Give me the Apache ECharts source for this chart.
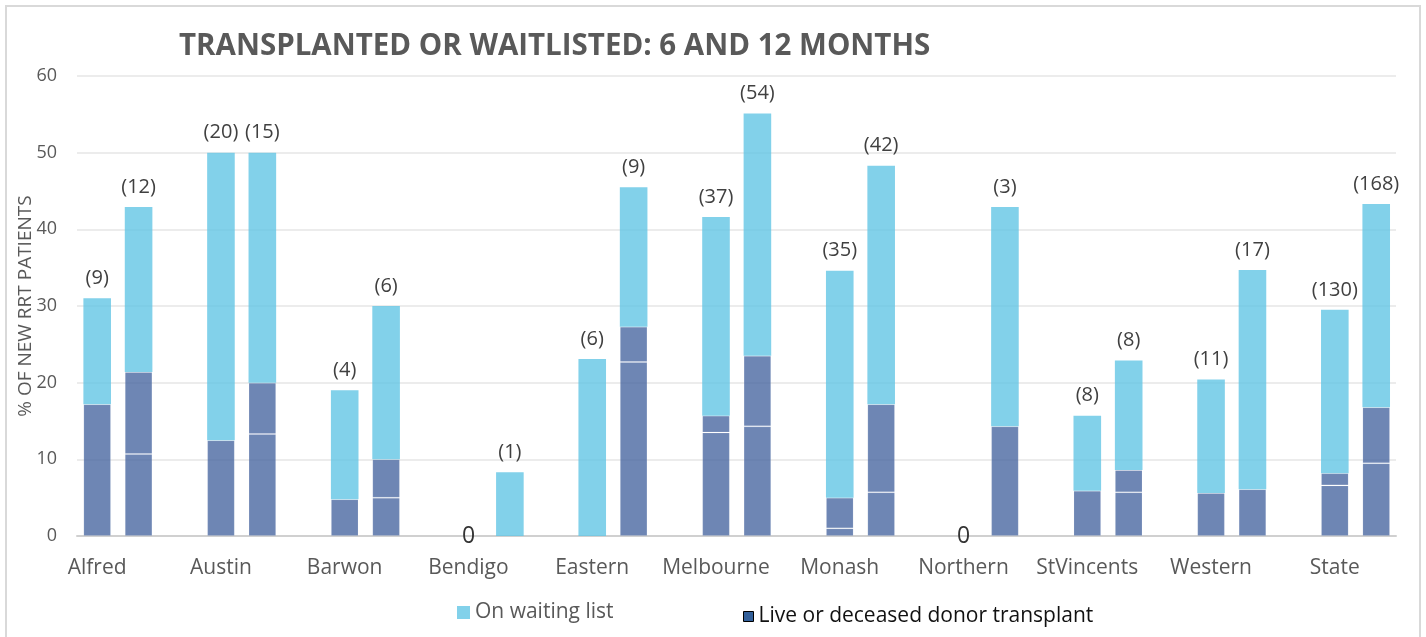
<!DOCTYPE html>
<html>
<head>
<meta charset="utf-8">
<title>Transplanted or waitlisted</title>
<script src="https://cdn.jsdelivr.net/npm/echarts@6/dist/echarts.min.js"></script>
<style>
  html, body { margin: 0; padding: 0; background: #fff; }
  #main { width: 1426px; height: 637px; }
</style>
</head>
<body>
<div id="main"></div>
<script>
// units
var units = ['Alfred', 'Austin', 'Barwon', 'Bendigo', 'Eastern', 'Melbourne', 'Monash', 'Northern', 'StVincents', 'Western', 'State'];

// % of new RRT patients, 6 months
var transplantLow6 = [17.2, 12.5, 4.8, 0, 0, 13.5, 1.0, 0, 5.9, 5.6, 6.6];
var transplantHigh6 = [0, 0, 0, 0, 0, 2.2, 4.0, 0, 0, 0, 1.6];
var waiting6 = [13.8, 37.5, 14.2, 0, 23.1, 25.9, 29.6, 0, 9.8, 14.8, 21.3];
var count6 = [9, 20, 4, 0, 6, 37, 35, 0, 8, 11, 130];

// % of new RRT patients, 12 months
var transplantLow12 = [10.7, 13.3, 5.0, 0, 22.7, 14.3, 5.7, 14.3, 5.7, 6.1, 9.5];
var transplantHigh12 = [10.7, 6.7, 5.0, 0, 4.6, 9.2, 11.5, 0, 2.9, 0, 7.3];
var waiting12 = [21.5, 30.0, 20.0, 8.3, 18.2, 31.6, 31.1, 28.6, 14.3, 28.6, 26.5];
var count12 = [12, 15, 6, 1, 9, 54, 42, 3, 8, 17, 168];

var yTicks = [0, 10, 20, 30, 40, 50, 60];

window.onload = function () {
  var myChart = echarts.init(document.getElementById('main'));

  var lightBlue = 'rgba(99,197,229,0.8)';
  var darkBlue = 'rgba(74,104,161,0.8)';

  // dark segments: empty where zero so no border line is drawn
  function darkData(arr) {
    return arr.map(function (v) { return v === 0 ? '-' : v; });
  }

  // waiting list segment carries the count label
  function waitData(arr, counts) {
    return arr.map(function (v, i) {
      if (counts[i] === 0) {
        return {
          value: v,
          label: { position: 'inside', fontSize: 23, color: '#333333', formatter: '0' }
        };
      }
      return v;
    });
  }

  function countLabel(counts) {
    return {
      show: true,
      position: 'top',
      distance: 10,
      fontSize: 20,
      color: '#404040',
      formatter: function (p) {
        return '(' + counts[p.dataIndex] + ')';
      }
    };
  }

  function darkSeries(stack, data) {
    return {
      name: 'Live or deceased donor transplant',
      type: 'bar',
      xAxisIndex: 1,
      yAxisIndex: 1,
      stack: stack,
      barWidth: 27.6,
      barGap: '50%',
      itemStyle: { color: darkBlue, borderColor: 'rgba(255,255,255,0.1)', borderWidth: 1 },
      emphasis: { disabled: true },
      data: darkData(data)
    };
  }

  function waitSeries(stack, data, counts) {
    return {
      name: 'On waiting list',
      type: 'bar',
      xAxisIndex: 1,
      yAxisIndex: 1,
      stack: stack,
      barWidth: 27.6,
      barGap: '50%',
      itemStyle: { color: lightBlue },
      emphasis: { disabled: true },
      label: countLabel(counts),
      data: waitData(data, counts)
    };
  }

  var option = {
    animation: false,
    textStyle: { fontFamily: 'Open Sans' },
    title: {
      text: 'TRANSPLANTED OR WAITLISTED: 6 AND 12 MONTHS',
      left: 179,
      top: 32,
      padding: 0,
      textStyle: { fontSize: 29.5, fontWeight: 'bold', color: '#595959' }
    },
    legend: [
      {
        data: ['On waiting list'],
        left: 452,
        top: 597,
        itemWidth: 13,
        itemHeight: 13,
        itemGap: 7,
        icon: 'rect',
        textStyle: { fontSize: 21, color: '#595959' }
      },
      {
        data: ['Live or deceased donor transplant'],
        left: 738,
        top: 601,
        itemWidth: 10,
        itemHeight: 10,
        icon: 'rect',
        itemStyle: { color: '#33609a', borderColor: '#000', borderWidth: 1 },
        textStyle: { fontSize: 21, color: '#111111' }
      }
    ],
    graphic: [
      {
        type: 'rect',
        shape: { x: 6, y: 6, width: 1414, height: 640 },
        style: { fill: 'none', stroke: '#d9d9d9', lineWidth: 2 },
        silent: true
      }
    ],
    grid: [
      { left: 77, right: 30, top: 76, bottom: 101 },
      { left: 56, right: 8.6, top: 76, bottom: 101 }
    ],
    xAxis: [
      {
        type: 'value',
        gridIndex: 0,
        min: 0,
        max: 1,
        axisLine: { show: true, lineStyle: { color: '#d0d0d0', width: 2 } },
        axisTick: { show: false },
        axisLabel: { show: false },
        splitLine: { show: false }
      },
      {
        type: 'category',
        gridIndex: 1,
        data: units,
        axisLine: { show: false },
        axisTick: { show: false },
        axisLabel: {
          interval: 0,
          fontSize: 21,
          color: '#595959',
          margin: 22,
          padding: [0, 41.5, 0, 0]
        }
      }
    ],
    yAxis: [
      {
        type: 'value',
        gridIndex: 0,
        min: yTicks[0],
        max: yTicks[yTicks.length - 1],
        interval: 10,
        name: '% OF NEW RRT PATIENTS',
        nameLocation: 'middle',
        nameGap: 42,
        nameMoveOverlap: false,
        nameTextStyle: { fontSize: 19, color: '#595959' },
        axisLine: { show: false },
        axisTick: { show: false },
        axisLabel: { fontSize: 18, color: '#595959', margin: 20 },
        splitLine: { lineStyle: { color: '#e6e6e6', width: 1.5 } }
      },
      {
        type: 'value',
        gridIndex: 1,
        min: yTicks[0],
        max: yTicks[yTicks.length - 1],
        show: false
      }
    ],
    series: [
      darkSeries('m6', transplantLow6),
      darkSeries('m6', transplantHigh6),
      waitSeries('m6', waiting6, count6),
      darkSeries('m12', transplantLow12),
      darkSeries('m12', transplantHigh12),
      waitSeries('m12', waiting12, count12)
    ]
  };

  if (option && typeof option === 'object') {
    myChart.setOption(option);
  }
};
</script>
</body>
</html>
